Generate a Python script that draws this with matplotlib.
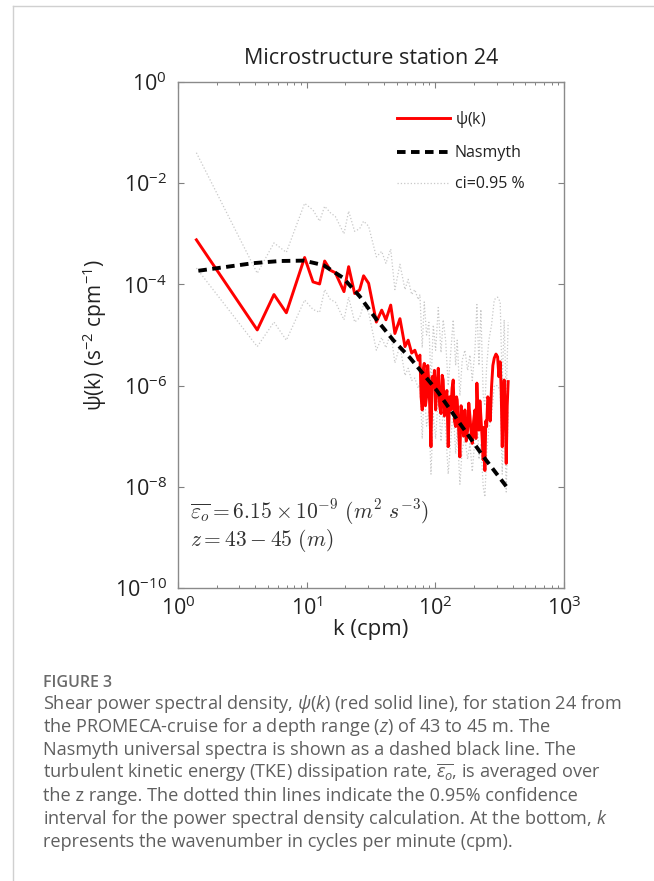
import numpy as np
import matplotlib
matplotlib.use("Agg")
import matplotlib.pyplot as plt
from matplotlib.lines import Line2D

plt.rcParams['font.family'] = ['Open Sans', 'DejaVu Sans']
plt.rcParams['mathtext.fontset'] = 'custom'
plt.rcParams['mathtext.rm'] = 'Open Sans'
plt.rcParams['mathtext.it'] = 'Open Sans:italic'
plt.rcParams['mathtext.bf'] = 'Open Sans:bold'

# wavenumber (cpm) and shear spectrum psi(k)
k = [1.39, 4.13, 5.57, 6.95, 9.64, 11.2, 12.6, 13.8, 15.3, 16.7,
     19.5, 21.2, 23.6, 25.8, 27.7, 30.3, 34.8, 38.3, 41.3, 45.0,
     48.5, 53.1, 58.1, 61.5, 65.5, 69.3, 73.6, 75.9, 77.5, 79.1,
     80.5, 82.0, 83.8, 85.5, 87.3, 89.1, 90.8, 92.5, 94.4, 96.4,
     98.4, 100.5, 103.0, 105.4, 108.0, 110.7, 113.0, 115.1, 117.6, 120.2,
     123.0, 125.9, 129.0, 132.1, 135.0, 137.7, 140.8, 143.9, 146.0, 147.9,
     151.5, 155.2, 158.5, 161.8, 165.8, 169.8, 174.0, 178.2, 182.0, 185.8,
     189.7, 193.6, 198.4, 203.2, 206.8, 210.4, 214.3, 218.3, 222.0, 225.9,
     230.6, 235.5, 239.0, 242.7, 246.6, 250.6, 255.6, 260.6, 267.0, 273.5,
     280.0, 287.1, 296.0, 304.8, 312.0, 319.2, 325.0, 331.1, 337.0, 342.8,
     349.0, 355.6, 362.0, 368.1]
psi = [7.6e-4, 1.26e-5, 6.3e-5, 2.75e-5, 3.4e-4, 1.12e-4, 1.02e-4, 2.9e-4, 1.9e-4, 1.7e-4,
       7.2e-5, 2.24e-4, 6.6e-5, 7.8e-5, 1.48e-4, 1.05e-4, 1.8e-5, 3.1e-5, 2.0e-5, 3.9e-5,
       1.07e-5, 2.1e-5, 5.9e-6, 7.9e-6, 4.4e-6, 5.0e-6, 3.2e-6, 4.0e-6, 6.0e-7, 3.3e-7,
       2.0e-6, 2.75e-6, 4.0e-7, 6.0e-7, 2.5e-6, 1.12e-6, 3.0e-7, 6.2e-8, 1.5e-6, 9.5e-7,
       2.0e-6, 3.3e-7, 1.0e-6, 2.2e-6, 4.0e-7, 2.8e-7, 1.6e-6, 1.29e-6, 2.5e-7, 5.2e-7,
       8.0e-7, 6.2e-8, 6.0e-7, 3.3e-7, 9.0e-7, 1.29e-6, 2.0e-7, 1.55e-7, 6.0e-7, 5.2e-7,
       1.5e-7, 3.9e-8, 4.0e-7, 2.1e-7, 1.0e-7, 3.3e-7, 8.0e-8, 1.32e-7, 4.5e-7, 2.45e-7,
       1.2e-7, 7.2e-8, 2.0e-7, 3.3e-7, 9.0e-8, 1.12e-6, 3.0e-7, 1.32e-7, 5.0e-7, 2.45e-7,
       1.0e-7, 3.4e-8, 1.5e-7, 2.1e-8, 2.0e-7, 1.55e-7, 6.0e-7, 5.2e-7, 2.0e-7, 9.5e-7,
       2.5e-6, 3.5e-6, 4.2e-6, 3.7e-6, 1.5e-6, 2.95e-6, 8.0e-7, 6.2e-8, 5.0e-7, 1.29e-6,
       3.0e-7, 2.9e-8, 4.0e-7, 1.2e-6]

# 0.95 confidence bounds (dotted grey)
k_ci = [1.39, 4.13, 5.57, 6.95, 9.64, 11.2, 12.6, 13.8, 15.3, 16.7,
        19.5, 21.2, 23.6, 25.8, 27.7, 30.3, 34.8, 38.3, 41.3, 45.0,
        48.5, 53.1, 58.1, 61.5, 65.5, 69.3, 73.6, 75.9, 79.1, 82.0,
        85.5, 89.1, 92.5, 96.4, 100.5, 105.4, 110.7, 115.1, 120.2, 125.9,
        132.1, 137.7, 143.9, 147.9, 155.2, 161.8, 169.8, 178.2, 185.8, 193.6,
        203.2, 210.4, 218.3, 225.9, 235.5, 242.7, 250.6, 260.6, 273.5, 287.1,
        304.8, 319.2, 331.1, 342.8, 355.6, 368.1]
ci_up = [4.0e-2, 1.66e-4, 6.6e-4, 4.3e-4, 4.0e-3, 2.95e-3, 1.78e-3, 3.5e-3, 2.6e-3, 2.2e-3,
         1.0e-3, 2.8e-3, 1.12e-3, 1.26e-3, 1.78e-3, 1.41e-3, 3.5e-4, 4.5e-4, 2.6e-4, 5.0e-4,
         7.9e-5, 2.5e-4, 7.9e-5, 1.26e-4, 6.3e-5, 7.9e-5, 5.0e-5, 6.3e-5, 5.6e-6, 4.5e-5,
         1.0e-5, 1.78e-5, 1.0e-6, 1.58e-5, 5.0e-6, 3.5e-5, 4.5e-6, 2.0e-5, 7.9e-6, 1.0e-6,
         5.0e-6, 2.0e-5, 2.5e-6, 7.9e-6, 6.3e-7, 3.2e-6, 5.0e-6, 2.0e-6, 4.0e-6, 1.26e-6,
         5.0e-6, 4.0e-5, 2.5e-6, 3.2e-5, 6.3e-7, 4.0e-7, 2.5e-6, 7.9e-6, 1.58e-5, 5.0e-5,
         5.6e-5, 4.5e-5, 1.0e-6, 2.0e-5, 5.0e-7, 1.78e-5]
ci_lo = [2.1e-4, 5.9e-6, 1.8e-5, 7.9e-6, 4.9e-5, 3.2e-5, 2.8e-5, 7.9e-5, 5.0e-5, 4.5e-5,
         2.0e-5, 5.6e-5, 1.8e-5, 2.2e-5, 4.0e-5, 2.8e-5, 5.0e-6, 8.9e-6, 5.6e-6, 1.12e-5,
         2.8e-6, 6.3e-6, 1.58e-6, 2.2e-6, 1.26e-6, 1.41e-6, 8.9e-7, 1.12e-6, 8.9e-8, 7.9e-7,
         1.58e-7, 3.2e-7, 1.78e-8, 2.8e-7, 8.9e-8, 6.3e-7, 7.9e-8, 3.5e-7, 1.41e-7, 1.78e-8,
         8.9e-8, 3.5e-7, 4.5e-8, 1.41e-7, 1.12e-8, 5.6e-8, 8.9e-8, 3.5e-8, 7.1e-8, 2.0e-8,
         8.9e-8, 3.2e-7, 3.5e-8, 7.1e-8, 1.0e-8, 6.3e-9, 4.5e-8, 1.41e-7, 2.5e-7, 1.0e-6,
         1.0e-6, 7.9e-7, 1.78e-8, 3.5e-7, 7.9e-9, 3.2e-7]

# Nasmyth universal spectrum
k_nas = [1.44, 3.85, 6.21, 9.53, 13.5, 19.2, 25.9, 35.0, 47.1, 63.5, 102.3, 155.2, 235.5, 358.1]
psi_nas = [1.86e-4, 2.63e-4, 2.9e-4, 2.95e-4, 2.4e-4, 1.35e-4, 5.75e-5, 2.0e-5,
           7.9e-6, 3.55e-6, 8.1e-7, 1.78e-7, 4.0e-8, 1.0e-8]

y_ticks = [1e0, 1e-2, 1e-4, 1e-6, 1e-8, 1e-10]
y_labels = ['$10^{0}$', '$10^{-2}$', '$10^{-4}$', '$10^{-6}$', '$10^{-8}$', '$10^{-10}$']
x_ticks = [1e0, 1e1, 1e2, 1e3]
x_labels = ['$10^{0}$', '$10^{1}$', '$10^{2}$', '$10^{3}$']

W, H = 654, 881
fig = plt.figure(figsize=(W / 100, H / 100), dpi=100)
ax = fig.add_axes([178 / W, 1 - 588 / H, 386 / W, 506 / H])

ax.plot(k_ci, ci_up, ':', color='#c8c8c8', lw=0.9)
ax.plot(k_ci, ci_lo, ':', color='#c8c8c8', lw=0.9)
ax.plot(k, psi, color='#ff0000', lw=2.1, label=r'$\mathrm{\psi(k)}$')
ax.plot(k_nas, psi_nas, '--', color='black', lw=2.8, dashes=(2.2, 1.4), label='Nasmyth')
ax.plot([], [], ':', color='#c8c8c8', lw=0.9, label='ci=0.95 %')

ax.set_xscale('log')
ax.set_yscale('log')
ax.set_xlim(1, 1e3)
ax.set_ylim(1e-10, 1e0)
ax.set_yticks(y_ticks)
ax.set_yticklabels(y_labels)
ax.yaxis.set_minor_locator(matplotlib.ticker.NullLocator())
ax.set_xticks(x_ticks)
ax.set_xticklabels(x_labels)
ax.tick_params(which='both', direction='in', top=True, right=True, colors='#808080',
               labelcolor='#222222', labelsize=15.5)
ax.tick_params(which='major', length=4, width=0.8)
ax.tick_params(which='minor', length=2, width=0.7)
ax.tick_params(axis='y', pad=8)
ax.tick_params(axis='x', pad=6)
for s in ax.spines.values():
    s.set_color('#8a8a8a')
    s.set_linewidth(1.0)

ax.set_title('Microstructure station 24', fontsize=15.5, color='#222222', pad=13)
ax.set_xlabel('k (cpm)', fontsize=16, color='#222222', labelpad=-1)
ax.set_ylabel(r'$\mathrm{\psi(k)\ (s^{-2}\ cpm^{-1})}$', fontsize=15, color='#222222', labelpad=4)

leg = ax.legend(loc='upper right', bbox_to_anchor=(0.935, 0.975), frameon=False,
                fontsize=11.5, handlelength=3.3, handletextpad=0.3, labelspacing=0.95,
                labelcolor='#222222')

ax.text(0.03, 0.150, r'$\overline{\varepsilon_o} = 6.15 \times 10^{-9}\ (m^2\ s^{-3})$',
        transform=ax.transAxes, fontsize=15.5, color='#333333', math_fontfamily='cm',
        va='center')
ax.text(0.03, 0.093, r'$z = 43 - 45\ (m)$', transform=ax.transAxes, fontsize=15.5,
        color='#333333', math_fontfamily='cm', va='center')

# page frame lines
fig.add_artist(Line2D([13 / W, 1], [1 - 6 / H, 1 - 6 / H], color='#d0d0d0', lw=1))
fig.add_artist(Line2D([13 / W, 13 / W], [0, 1 - 6 / H], color='#d0d0d0', lw=1))

cap_col = '#5f5f5f'
fig.text(43 / W, 1 - 683 / H, 'FIGURE 3', fontsize=11.5, color='#6a6a6a', va='center',
         fontweight='semibold')
cap_lines = [
    r'Shear power spectral density, $\psi$($k$) (red solid line), for station 24 from',
    r'the PROMECA-cruise for a depth range ($z$) of 43 to 45 m. The',
    'Nasmyth universal spectra is shown as a dashed black line. The',
    r'turbulent kinetic energy (TKE) dissipation rate, $\overline{\varepsilon_o}$, is averaged over',
    'the z range. The dotted thin lines indicate the 0.95% confidence',
    r'interval for the power spectral density calculation. At the bottom, $k$',
    'represents the wavenumber in cycles per minute (cpm).',
]
for i, line in enumerate(cap_lines):
    fig.text(43 / W, 1 - (704 + 23 * i) / H, line, fontsize=13.1, color=cap_col, va='center')

fig.savefig('out.png', dpi=100)
